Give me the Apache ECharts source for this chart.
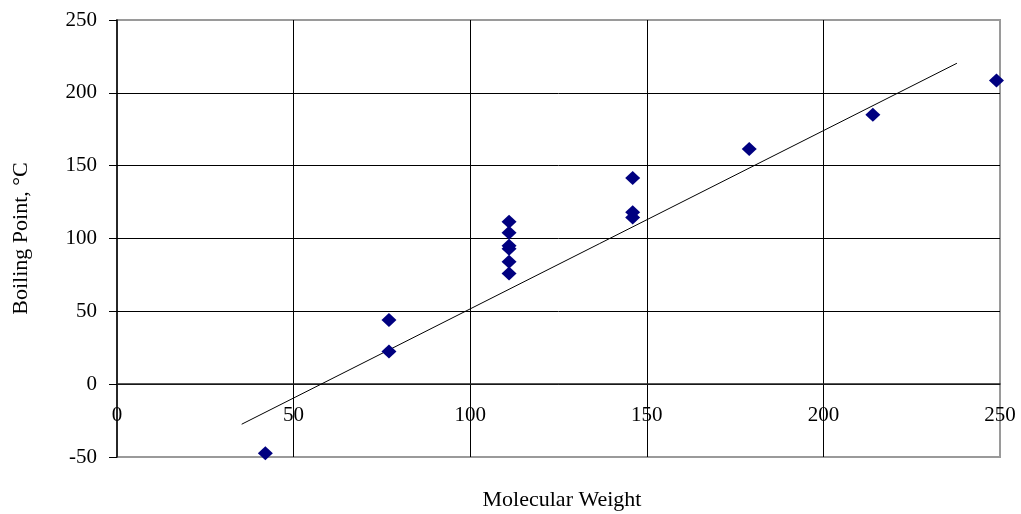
<!DOCTYPE html>
<html>
<head>
<meta charset="utf-8">
<title>Boiling Point vs Molecular Weight</title>
<script src="https://cdn.jsdelivr.net/npm/echarts@6/dist/echarts.min.js"></script>
<style>
  html, body { margin: 0; padding: 0; background: #ffffff; }
  #chart { width: 1021px; height: 514px; }
</style>
</head>
<body>
<div id="chart"></div>
<script>
// Measured compounds: molecular weight and boiling point (°C)
const molecularWeight = [42, 77, 77, 111, 111, 111, 111, 111, 111, 146, 146, 146, 179, 214, 249];
const boilingPoint    = [-47.5, 44, 22.5, 111.5, 104, 95, 93, 84, 76, 141.5, 118, 114.5, 161.5, 185, 208.5];

// Linear trend line end points [x, y]
const trendStart = [35.3, -27.5];
const trendEnd   = [237.8, 220.3];

// Axis ranges
const xRange = { min: 0, max: 250, step: 50 };
const yRange = { min: -50, max: 250, step: 50 };

const serif = '"Liberation Serif", "Times New Roman", serif';

const points = molecularWeight.map((x, i) => [x, boilingPoint[i]]);

const chart = echarts.init(document.getElementById('chart'));
chart.setOption({
  animation: false,
  backgroundColor: '#ffffff',
  grid: {
    left: 117, right: 21, top: 20, bottom: 57,
    outerBoundsMode: 'none',
    containLabel: false,
    show: true,
    borderColor: '#9a9a9a',
    borderWidth: 2,
    backgroundColor: 'transparent'
  },
  xAxis: {
    type: 'value',
    position: 'bottom',
    // lift the x axis from the plot bottom (-50) up to the 0 °C line
    offset: -73,
    min: xRange.min, max: xRange.max, interval: xRange.step,
    axisLine: { show: true, onZero: false, lineStyle: { color: '#222', width: 1.5 } },
    axisTick: { show: false },
    axisLabel: {
      margin: 21,
      color: '#000',
      fontFamily: serif,
      fontSize: 21
    },
    splitLine: {
      show: true,
      showMinLine: false,
      showMaxLine: false,
      lineStyle: { color: '#000', width: 1 }
    }
  },
  yAxis: {
    type: 'value',
    min: yRange.min, max: yRange.max, interval: yRange.step,
    name: 'Boiling Point, °C',
    nameLocation: 'middle',
    nameGap: 85,
    nameRotate: 90,
    nameTextStyle: { color: '#000', fontFamily: serif, fontSize: 22 },
    axisLine: { show: true, onZero: false, lineStyle: { color: '#000', width: 1.5 } },
    axisTick: { show: true, inside: false, length: 8, lineStyle: { color: '#000', width: 1 } },
    axisLabel: {
      margin: 20,
      color: '#000',
      fontFamily: serif,
      fontSize: 21
    },
    splitLine: {
      show: true,
      showMinLine: false,
      showMaxLine: false,
      lineStyle: { color: '#000', width: 1 }
    }
  },
  graphic: [{
    type: 'text',
    x: 562,
    y: 500,
    style: {
      text: 'Molecular Weight',
      fill: '#000',
      font: '22px ' + serif,
      textAlign: 'center',
      textVerticalAlign: 'middle'
    }
  }],
  series: [
    {
      name: 'Trend',
      type: 'line',
      data: [trendStart, trendEnd],
      showSymbol: false,
      symbol: 'none',
      lineStyle: { color: '#000', width: 1 },
      z: 3
    },
    {
      name: 'Boiling Point',
      type: 'scatter',
      data: points,
      symbol: 'diamond',
      symbolSize: [15, 14],
      itemStyle: { color: '#000080', opacity: 1 },
      z: 4
    }
  ]
});
</script>
</body>
</html>
